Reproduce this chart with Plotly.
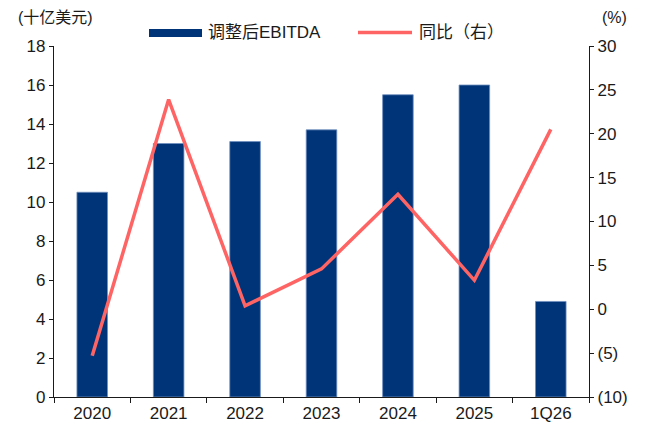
import plotly.graph_objects as go

categories = ["2020", "2021", "2022", "2023", "2024", "2025", "1Q26"]
ebitda = [10.5, 13.0, 13.1, 13.7, 15.5, 16.0, 4.9]
yoy = [-5.3, 23.9, 0.4, 4.6, 13.1, 3.3, 20.5]

left_ticks = list(range(0, 19, 2))
right_vals = list(range(-10, 31, 5))
right_text = [f"({abs(v)})" if v < 0 else str(v) for v in right_vals]

FONT = "Liberation Sans, Arial, Noto Sans CJK SC"
BAR = "#003478"
LINE = "#FF6464"
INK = "#1a1a1a"

# the page body adds an 8px offset; work in screen pixels and shift
OFF = 8
W, H = 651 - OFF, 430 - OFF
# plot area in screen pixels: x 54..589, y 46..397
L, R, T, B = 54, 589, 46, 397


def px(x):
    return (x - L) / (R - L)


def py(y):
    return (B - y) / (B - T)


fig = go.Figure()
fig.add_trace(go.Bar(
    x=categories, y=ebitda, name="调整后EBITDA",
    marker=dict(color=BAR, line=dict(color="#6f8fbf", width=0.8)),
    width=0.4,
))
fig.add_trace(go.Scatter(
    x=categories, y=yoy, name="同比（右）", yaxis="y2",
    mode="lines", line=dict(color=LINE, width=3.5),
))

axis_common = dict(
    showline=True, linecolor=INK, linewidth=1.2,
    ticks="outside", tickcolor=INK, showgrid=False, zeroline=False,
    automargin=False, tickfont=dict(size=17),
)

fig.update_layout(
    width=W, height=H,
    margin=dict(l=L - OFF, r=W - (R - OFF), t=T - OFF, b=H - (B - OFF)),
    plot_bgcolor="white", paper_bgcolor="white",
    font=dict(family=FONT, size=16, color=INK),
    showlegend=False,
    xaxis=dict(axis_common, ticklen=5, tickson="boundaries"),
    yaxis=dict(axis_common, range=[0, 18], tickvals=left_ticks, ticklen=4),
    yaxis2=dict(
        axis_common, range=[-10, 30], tickvals=right_vals, ticktext=right_text,
        overlaying="y", side="right", ticklen=4,
    ),
    shapes=[
        dict(type="rect", xref="paper", yref="paper",
             x0=px(149), x1=px(202), y0=py(37), y1=py(29),
             fillcolor=BAR, line=dict(width=0)),
        dict(type="line", xref="paper", yref="paper",
             x0=px(358), x1=px(412), y0=py(32.5), y1=py(32.5),
             line=dict(color=LINE, width=3.5)),
    ],
    annotations=[
        dict(text="调整后EBITDA", x=px(206), y=py(32.5), xanchor="left", yanchor="middle"),
        dict(text="同比（右）", x=px(417), y=py(32.5), xanchor="left", yanchor="middle"),
        dict(text="(十亿美元)", x=px(16), y=py(18), xanchor="left", yanchor="middle"),
        dict(text="(%)", x=px(614), y=py(18), xanchor="center", yanchor="middle"),
    ],
)
fig.update_annotations(xref="paper", yref="paper", showarrow=False, font=dict(size=17))
fig.layout.annotations[2].font = dict(size=16)
fig.layout.annotations[3].font = dict(size=16)

fig.write_html("out.html")
